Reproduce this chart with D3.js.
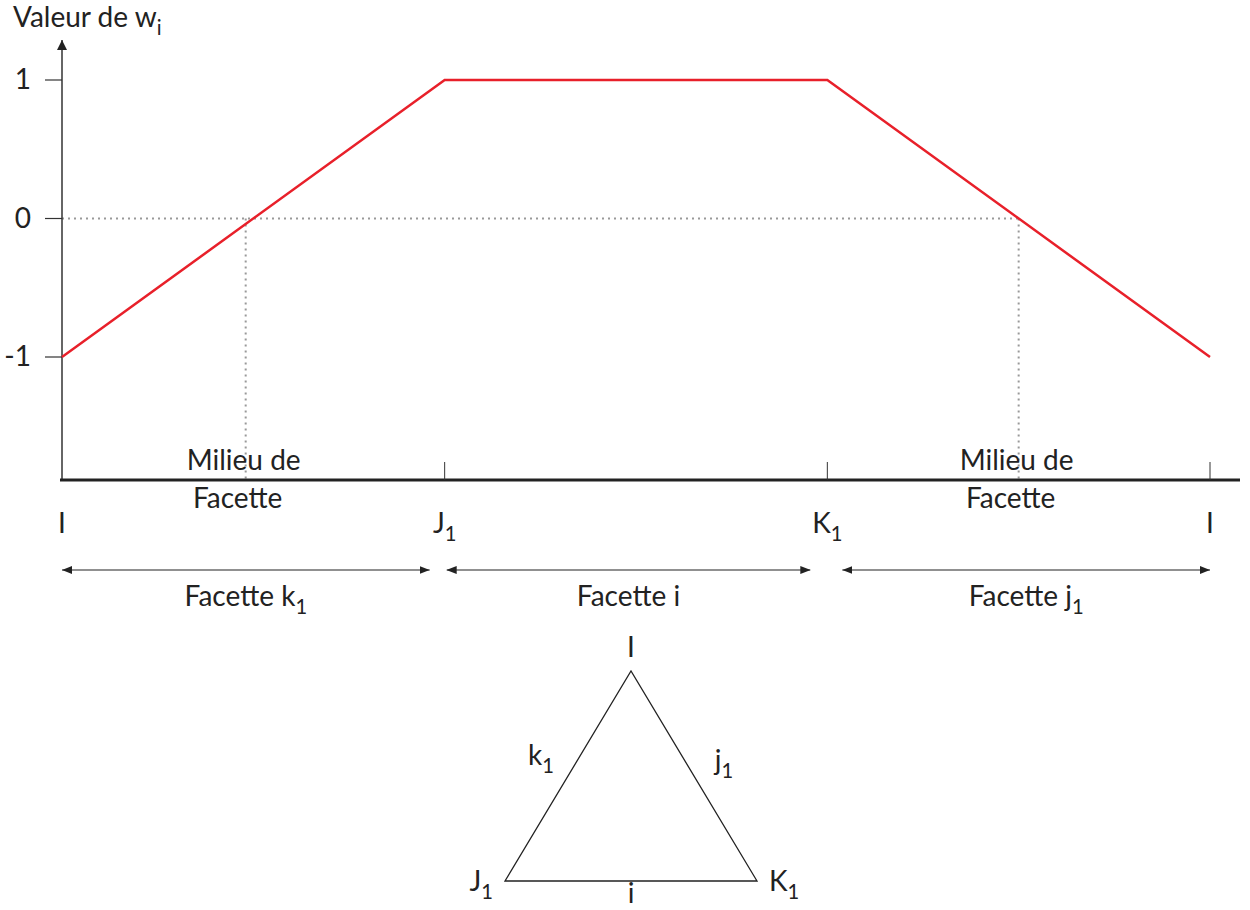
<!DOCTYPE html>
<html>
<head>
<meta charset="utf-8">
<script src="https://cdn.jsdelivr.net/npm/d3@7"></script>
<style>
  body { margin: 0; background: #fff; }
  text { font-family: Lato, "Open Sans", sans-serif; fill: #222; }
</style>
</head>
<body>
<div id="chart"></div>
<script>
let width = 1250;
let height = 910;
let fs = 28;

// Vertices along the horizontal axis (position, label, subscript)
const vertexPos = [0, 1, 2, 3];
const vertexNames = ["I", "J", "K", "I"];
const vertexSubs = ["", "1", "1", ""];

// Values of w_i at each vertex
const wValues = [-1, 1, 1, -1];

// Y ticks
const yTicks = [1, 0, -1];

// Middle of facets where w_i crosses zero
const milieuPos = [0.48, 2.5];

// Facet spans along the axis
const facetStart = [0, 1, 2];
const facetEnd = [1, 2, 3];
const facetNames = ["k", "i", "j"];
const facetSubs = ["1", "", "1"];

// Triangle (unit coords)
const triX = [0, 0.5, 1];
const triY = [0, 0.866, 0];
const triVertex = ["J", "I", "K"];
const triVertexSub = ["1", "", "1"];
const triEdge = ["k", "j", "i"];
const triEdgeSub = ["1", "1", ""];

const svg = d3.select("#chart")
  .append("svg")
  .attr("width", width)
  .attr("height", height);

const defs = svg.append("defs");
defs.append("marker")
  .attr("id", "head")
  .attr("viewBox", "0 0 10 10")
  .attr("refX", 10).attr("refY", 5)
  .attr("markerWidth", 10).attr("markerHeight", 10)
  .attr("markerUnits", "userSpaceOnUse")
  .attr("orient", "auto-start-reverse")
  .append("path")
  .attr("d", "M0,1 L10,5 L0,9 Z")
  .attr("fill", "#222");
defs.append("marker")
  .attr("id", "yhead")
  .attr("viewBox", "0 0 10 10")
  .attr("refX", 10).attr("refY", 5)
  .attr("markerWidth", 14).attr("markerHeight", 10)
  .attr("markerUnits", "userSpaceOnUse")
  .attr("orient", "auto")
  .append("path")
  .attr("d", "M0,0 L10,5 L0,10 Z")
  .attr("fill", "#222");

// Scales
const x = d3.scaleLinear().domain([0, 3]).range([62, 1210]);
const y = d3.scaleLinear().domain([-1, 1]).range([357, 80]);
const axisY = 480;

// helper: text with subscript
function subText(g, px, py, main, sub, size, anchor) {
  const t = g.append("text")
    .attr("x", px).attr("y", py)
    .attr("text-anchor", anchor || "middle")
    .style("font-size", size + "px");
  t.append("tspan").text(main);
  if (sub) {
    t.append("tspan")
      .attr("dy", size * 0.28)
      .style("font-size", (size * 0.72) + "px")
      .text(sub);
  }
  return t;
}

// Title
subText(svg, 13, 27, "Valeur de w", "i", fs, "start");

// Dotted guide lines
svg.append("line")
  .attr("x1", x(0)).attr("x2", x(milieuPos[1]))
  .attr("y1", y(0)).attr("y2", y(0))
  .attr("stroke", "#999").attr("stroke-width", 2)
  .attr("stroke-dasharray", "2,4");
svg.selectAll(".vdot")
  .data(milieuPos)
  .enter()
  .append("line")
  .attr("x1", d => x(d)).attr("x2", d => x(d))
  .attr("y1", y(0)).attr("y2", axisY)
  .attr("stroke", "#999").attr("stroke-width", 2)
  .attr("stroke-dasharray", "2,4");

// Y axis with arrow
svg.append("line")
  .attr("x1", x(0)).attr("x2", x(0))
  .attr("y1", axisY).attr("y2", 40)
  .attr("stroke", "#333").attr("stroke-width", 1.5)
  .attr("marker-end", "url(#yhead)");

// Y ticks
svg.selectAll(".ytick")
  .data(yTicks)
  .enter()
  .append("line")
  .attr("x1", 45).attr("x2", x(0))
  .attr("y1", d => y(d)).attr("y2", d => y(d))
  .attr("stroke", "#333").attr("stroke-width", 1.2);
svg.selectAll(".ylab")
  .data(yTicks)
  .enter()
  .append("text")
  .attr("x", 31)
  .attr("y", d => y(d) + 9)
  .attr("text-anchor", "end")
  .style("font-size", fs + "px")
  .text(d => d);

// X axis
svg.append("line")
  .attr("x1", 60).attr("x2", 1240)
  .attr("y1", axisY).attr("y2", axisY)
  .attr("stroke", "#222").attr("stroke-width", 3);
svg.selectAll(".xtick")
  .data(vertexPos.slice(1))
  .enter()
  .append("line")
  .attr("x1", d => x(d)).attr("x2", d => x(d))
  .attr("y1", 462).attr("y2", axisY)
  .attr("stroke", "#333").attr("stroke-width", 1);

// Red w_i line
const line = d3.line()
  .x((d, i) => x(vertexPos[i]))
  .y(d => y(d));
svg.append("path")
  .datum(wValues)
  .attr("fill", "none")
  .attr("stroke", "#e8202a")
  .attr("stroke-width", 2.5)
  .attr("d", line);

// Vertex labels under the axis
vertexPos.forEach((p, i) => {
  subText(svg, x(p), 533, vertexNames[i], vertexSubs[i], fs, "middle");
});

// Milieu de Facette labels
svg.selectAll(".mil1")
  .data(milieuPos)
  .enter()
  .append("text")
  .attr("x", d => x(d) - 2)
  .attr("y", 470)
  .attr("text-anchor", "middle")
  .style("font-size", fs + "px")
  .text("Milieu de");
svg.selectAll(".mil2")
  .data(milieuPos)
  .enter()
  .append("text")
  .attr("x", d => x(d) - 8)
  .attr("y", 508)
  .attr("text-anchor", "middle")
  .style("font-size", fs + "px")
  .text("Facette");

// Facet double arrows
const startPad = [0, 2, 15];
const endPad = [15, 17, 0];
svg.selectAll(".span")
  .data(facetStart)
  .enter()
  .append("line")
  .attr("x1", (d, i) => x(d) + startPad[i])
  .attr("x2", (d, i) => x(facetEnd[i]) - endPad[i])
  .attr("y1", 570).attr("y2", 570)
  .attr("stroke", "#222").attr("stroke-width", 1.2)
  .attr("marker-start", "url(#head)")
  .attr("marker-end", "url(#head)");
facetStart.forEach((s, i) => {
  const mid = (x(s) + startPad[i] + x(facetEnd[i]) - endPad[i]) / 2;
  subText(svg, mid, 606, "Facette " + facetNames[i], facetSubs[i], fs, "middle");
});

// Triangle
const tx = d3.scaleLinear().domain([0, 1]).range([505, 757]);
const ty = d3.scaleLinear().domain([0, 0.866]).range([881, 671]);
svg.append("path")
  .datum(triX.map((d, i) => [d, triY[i]]))
  .attr("fill", "none")
  .attr("stroke", "#222")
  .attr("stroke-width", 1.3)
  .attr("d", d3.line().x(d => tx(d[0])).y(d => ty(d[1])).curve(d3.curveLinearClosed));

// Triangle labels
subText(svg, tx(triX[1]), 657, triVertex[1], triVertexSub[1], fs, "middle");
subText(svg, tx(triX[0]) - 12, 891, triVertex[0], triVertexSub[0], fs, "end");
subText(svg, tx(triX[2]) + 12, 891, triVertex[2], triVertexSub[2], fs, "start");
subText(svg, 541, 765, triEdge[0], triEdgeSub[0], fs, "middle");
subText(svg, 724, 770, triEdge[1], triEdgeSub[1], fs, "middle");
subText(svg, tx(0.5), 903, triEdge[2], triEdgeSub[2], fs, "middle");
</script>
</body>
</html>
